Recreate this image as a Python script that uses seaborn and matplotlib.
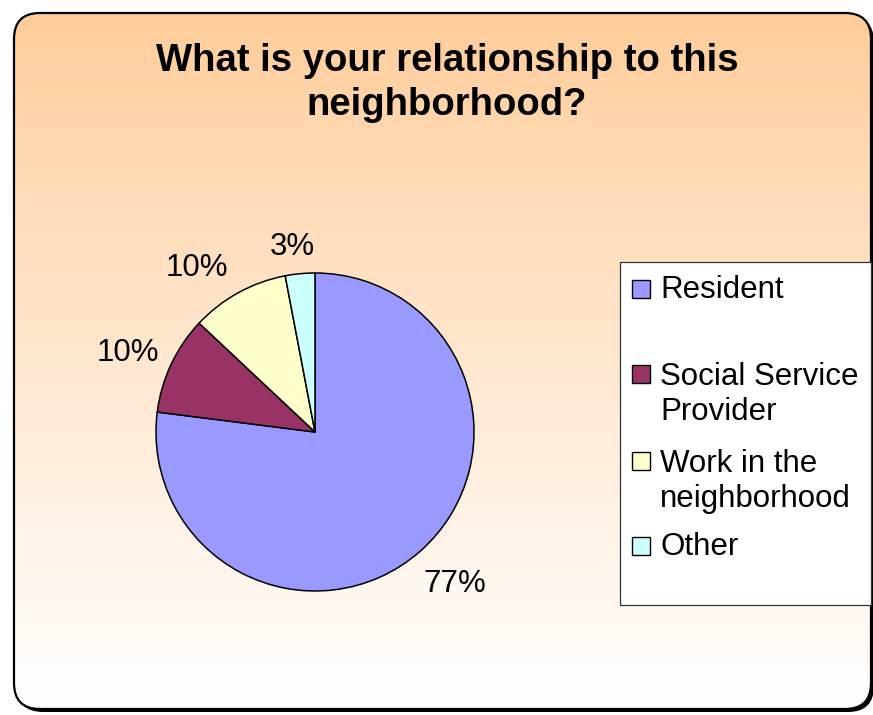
import numpy as np
import matplotlib
matplotlib.use("Agg")
import matplotlib.pyplot as plt
from matplotlib.patches import FancyBboxPatch, Rectangle
import seaborn as sns

# Survey answers and their shares (percent)
categories = ["Resident", "Social Service Provider", "Work in the neighborhood", "Other"]
legend_labels = ["Resident", "Social Service\nProvider", "Work in the\nneighborhood", "Other"]
shares = [77, 10, 10, 3]
title = "What is your relationship to this\nneighborhood?"

sns.set_theme(style="white")
plt.rcParams["font.family"] = ["Liberation Sans", "DejaVu Sans"]
palette = sns.color_palette(["#9999FF", "#993366", "#FFFFCC", "#CCFFFF"])

W, H = 873, 715
fig = plt.figure(figsize=(W / 100, H / 100), dpi=100)
fig.patch.set_facecolor("white")

# Full-figure pixel canvas for the frame, gradient and legend
bg = fig.add_axes([0, 0, 1, 1])
bg.axis("off")

x0, y0, x1, y1 = 14, 13, 871, 709
rad = 26
style = f"round,pad=0,rounding_size={rad}"
shadow = FancyBboxPatch((x0 + 3, y0 + 3), x1 - x0, y1 - y0, boxstyle=style,
                        fc="black", ec="none", zorder=0)
bg.add_patch(shadow)
fill = FancyBboxPatch((x0, y0), x1 - x0, y1 - y0, boxstyle=style,
                      fc="white", ec="none", zorder=1)
bg.add_patch(fill)

# Vertical peach-to-white gradient clipped to the rounded frame
t = np.linspace(0, 1, 400) ** 0.9
top = np.array([1.0, 0xCC / 255, 0x99 / 255])
grad = top[None, :] * (1 - t[:, None]) + np.ones(3)[None, :] * t[:, None]
img = bg.imshow(grad[:, None, :], extent=[x0, x1, y1, y0], origin="upper",
                aspect="auto", zorder=2, interpolation="bilinear")
img.set_clip_path(fill)

border = FancyBboxPatch((x0, y0), x1 - x0, y1 - y0, boxstyle=style,
                        fc="none", ec="black", lw=1.6, zorder=3)
bg.add_patch(border)
bg.set_xlim(0, W)
bg.set_ylim(H, 0)

# Title
fig.text(447 / W, 1 - 83 / H, title, ha="center", va="center",
         fontsize=27.5, fontweight="bold", linespacing=1.3, color="black")

# Pie
cx, cy, R = 315, 432, 159
pax = fig.add_axes([(cx - R) / W, 1 - (cy + R) / H, 2 * R / W, 2 * R / H])
wedges, texts, autotexts = pax.pie(
    shares, colors=palette, startangle=90, counterclock=False,
    wedgeprops=dict(edgecolor="black", linewidth=1.1),
    autopct="%1.0f%%", pctdistance=1.28,
    textprops=dict(fontsize=22.5, color="black"))
pax.set_xlim(-1, 1)
pax.set_ylim(-1, 1)
pax.set_aspect("equal")
pax.axis("off")

# Percentage labels placed just outside the rim (pie radius units)
label_anchors = [(0.881, -0.955), (-1.176, 0.498), (-0.742, 1.032), (-0.145, 1.164)]
for txt, pos in zip(autotexts, label_anchors):
    txt.set_position(pos)

# Legend
bg.add_patch(Rectangle((620, 262), 251, 343, fc="white", ec="#333333",
                       lw=0.9, zorder=4))
baselines = [298, 383, 470, 555]
line_step = 37
for label, color, base in zip(legend_labels, palette, baselines):
    bg.add_patch(Rectangle((632, base - 18), 18, 18, fc=color, ec="black",
                           lw=1.0, zorder=5))
    n_lines = label.count("\n") + 1
    bg.text(660, base + line_step * (n_lines - 1), label, ha="left",
            va="baseline", fontsize=22.5, linespacing=1.22, color="black",
            zorder=5)

fig.savefig("out.png", dpi=100)
